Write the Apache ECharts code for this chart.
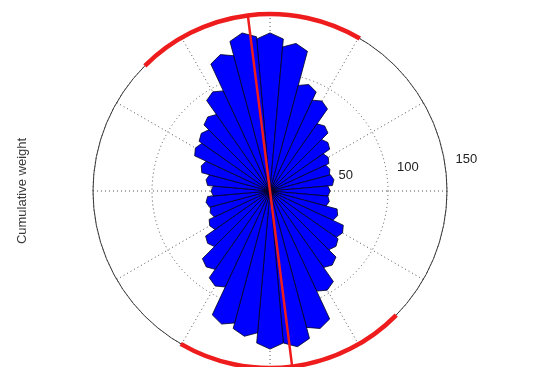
<!DOCTYPE html>
<html>
<head>
<meta charset="utf-8">
<script src="https://cdn.jsdelivr.net/npm/echarts@6/dist/echarts.min.js"></script>
<style>
  html, body { margin: 0; padding: 0; background: #fff; }
  #chart { width: 558px; height: 367px; }
</style>
</head>
<body>
<div id="chart"></div>
<script>
// Rose histogram: bin centres (degrees clockwise from north) and cumulative weight per bin
const binCenters = [0, 10, 20, 30, 40, 50, 60, 70, 80, 90, 100, 110,
                    120, 130, 140, 150, 160, 170, 180, 190, 200, 210, 220, 230,
                    240, 250, 260, 270, 280, 290, 300, 310, 320, 330, 340, 350];
const binWeights = [134, 127, 96, 88, 72, 64, 57, 54, 55, 51, 51, 61,
                    71, 73, 82, 97, 124, 134, 134, 125, 120, 93, 84, 69,
                    59, 54, 55, 50, 55, 62, 73, 76, 82, 97, 123, 136];
const binWidth = 10;

// Radial scale ticks
const radialTicks = [50, 100, 150];
const radialMax = 150;
const tickLabelAngle = 82;

// Mean axial direction (both ends) and the arcs marking its spread on the rim
const meanAxis = [352.8, 172.8];
const arcStarts = [315, 134.5];
const arcEnds = [390.5, 210.3];

const yLabel = 'Cumulative weight';
const FONT = 'Liberation Sans, Arial, Helvetica, sans-serif';

const chart = echarts.init(document.getElementById('chart'), null, { renderer: 'canvas' });

const petalData = binCenters.map((a, i) => [binWeights[i], a]);
const tickLabelData = radialTicks.map(t => [t + radialTicks[0] / 20, tickLabelAngle, t]);
const arcData = arcStarts.map((s, i) => [radialMax, s, arcEnds[i]]);

function renderPetal(params, api) {
  const r = api.value(0);
  const a = api.value(1);
  const c = api.coord([0, a]);
  const p1 = api.coord([r * 0.965, a - binWidth / 2]);
  const tip = api.coord([r, a]);
  const p2 = api.coord([r * 0.965, a + binWidth / 2]);
  return {
    type: 'polygon',
    shape: { points: [c, p1, tip, p2] },
    style: { fill: '#0000ff', stroke: '#000020', lineWidth: 0.8 }
  };
}

function renderArc(params, api) {
  const r = api.value(0);
  const c = api.coord([0, 0]);
  const e = api.coord([r, 0]);
  const rp = Math.hypot(e[0] - c[0], e[1] - c[1]);
  const toRad = b => (b - 90) * Math.PI / 180;
  return {
    type: 'arc',
    shape: { cx: c[0], cy: c[1], r: rp, startAngle: toRad(api.value(1)), endAngle: toRad(api.value(2)), clockwise: true },
    style: { fill: null, stroke: '#ee1c1c', lineWidth: 4.5 }
  };
}

function renderTickLabel(params, api) {
  const p = api.coord([api.value(0), api.value(1)]);
  return {
    type: 'text', x: p[0], y: p[1],
    style: { text: '  ' + api.value(2), font: '13px ' + FONT, fill: '#222', align: 'left', verticalAlign: 'bottom' }
  };
}

chart.setOption({
  animation: false,
  backgroundColor: '#ffffff',
  polar: { center: [270, 191], radius: 177 },
  angleAxis: {
    type: 'value', min: 0, max: 360, interval: 30,
    startAngle: 90, clockwise: true,
    axisLine: { show: true, lineStyle: { color: '#3a3a3a', width: 1 } },
    axisTick: { show: false },
    axisLabel: { show: false },
    splitLine: { show: true, lineStyle: { color: '#555', width: 1, type: [1, 3] } }
  },
  radiusAxis: {
    type: 'value', min: 0, max: radialMax, interval: 50,
    axisLine: { show: false },
    axisTick: { show: false },
    axisLabel: { show: false },
    splitLine: { show: true, lineStyle: { color: '#555', width: 1, type: [1, 3] } }
  },
  graphic: [{
    type: 'text', x: 22, y: 191, rotation: Math.PI / 2,
    style: { text: yLabel, font: '13px ' + FONT, fill: '#3a3a3a', align: 'center', verticalAlign: 'middle' }
  }],
  series: [
    {
      type: 'custom', coordinateSystem: 'polar',
      renderItem: renderPetal, data: petalData, z: 2
    },
    {
      type: 'line', coordinateSystem: 'polar', symbol: 'none', z: 3,
      lineStyle: { color: '#ee1c1c', width: 2.5 },
      data: [[radialMax, meanAxis[0]], [0, meanAxis[0]], [radialMax, meanAxis[1]]]
    },
    {
      type: 'custom', coordinateSystem: 'polar',
      renderItem: renderArc, data: arcData, z: 4
    },
    {
      type: 'custom', coordinateSystem: 'polar',
      renderItem: renderTickLabel, data: tickLabelData, z: 5
    }
  ]
});
</script>
</body>
</html>
